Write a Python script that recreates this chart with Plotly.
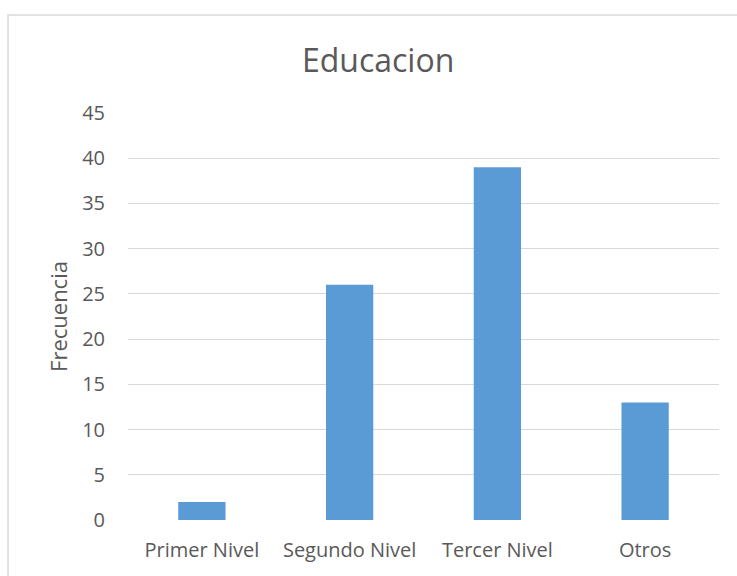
import plotly.graph_objects as go

categories = ["Primer Nivel", "Segundo Nivel", "Tercer Nivel", "Otros"]
values = [2, 26, 39, 13]
y_ticks = [0, 5, 10, 15, 20, 25, 30, 35, 40, 45]

FONT = "'Open Sans', sans-serif"
TXT = "#595959"

fig = go.Figure(go.Bar(
    x=categories, y=values, marker=dict(color="#5b9bd5", line=dict(width=0)),
    width=0.32,
))

fig.update_layout(
    width=737, height=576,
    margin=dict(l=128, r=18, t=113, b=56),
    paper_bgcolor="white", plot_bgcolor="white",
    font=dict(family=FONT, size=20, color=TXT),
    title=dict(text="Educacion", x=0.513, xanchor="center", y=0.895, yanchor="middle",
               font=dict(family=FONT, size=32, color=TXT)),
    showlegend=False,
    shapes=[dict(type="rect", xref="paper", yref="paper",
                 x0=-0.203, x1=1.5, y0=-1, y1=1.2408,
                 line=dict(color="#d9d9d9", width=1.5), fillcolor="rgba(0,0,0,0)", layer="below")],
)
fig.update_xaxes(showgrid=False, showline=False, zeroline=False, ticks="",
                 ticklabelstandoff=16, tickfont=dict(size=20, color=TXT))
fig.update_yaxes(range=[0, 45], tickvals=y_ticks, showgrid=True, gridcolor="#d9d9d9", gridwidth=1.3,
                 zeroline=False, showline=False, ticks="", ticklabelstandoff=22,
                 tickfont=dict(size=20, color=TXT),
                 title=dict(text="Frecuencia", standoff=8, font=dict(size=22, color=TXT)))

fig.write_html("out.html")
